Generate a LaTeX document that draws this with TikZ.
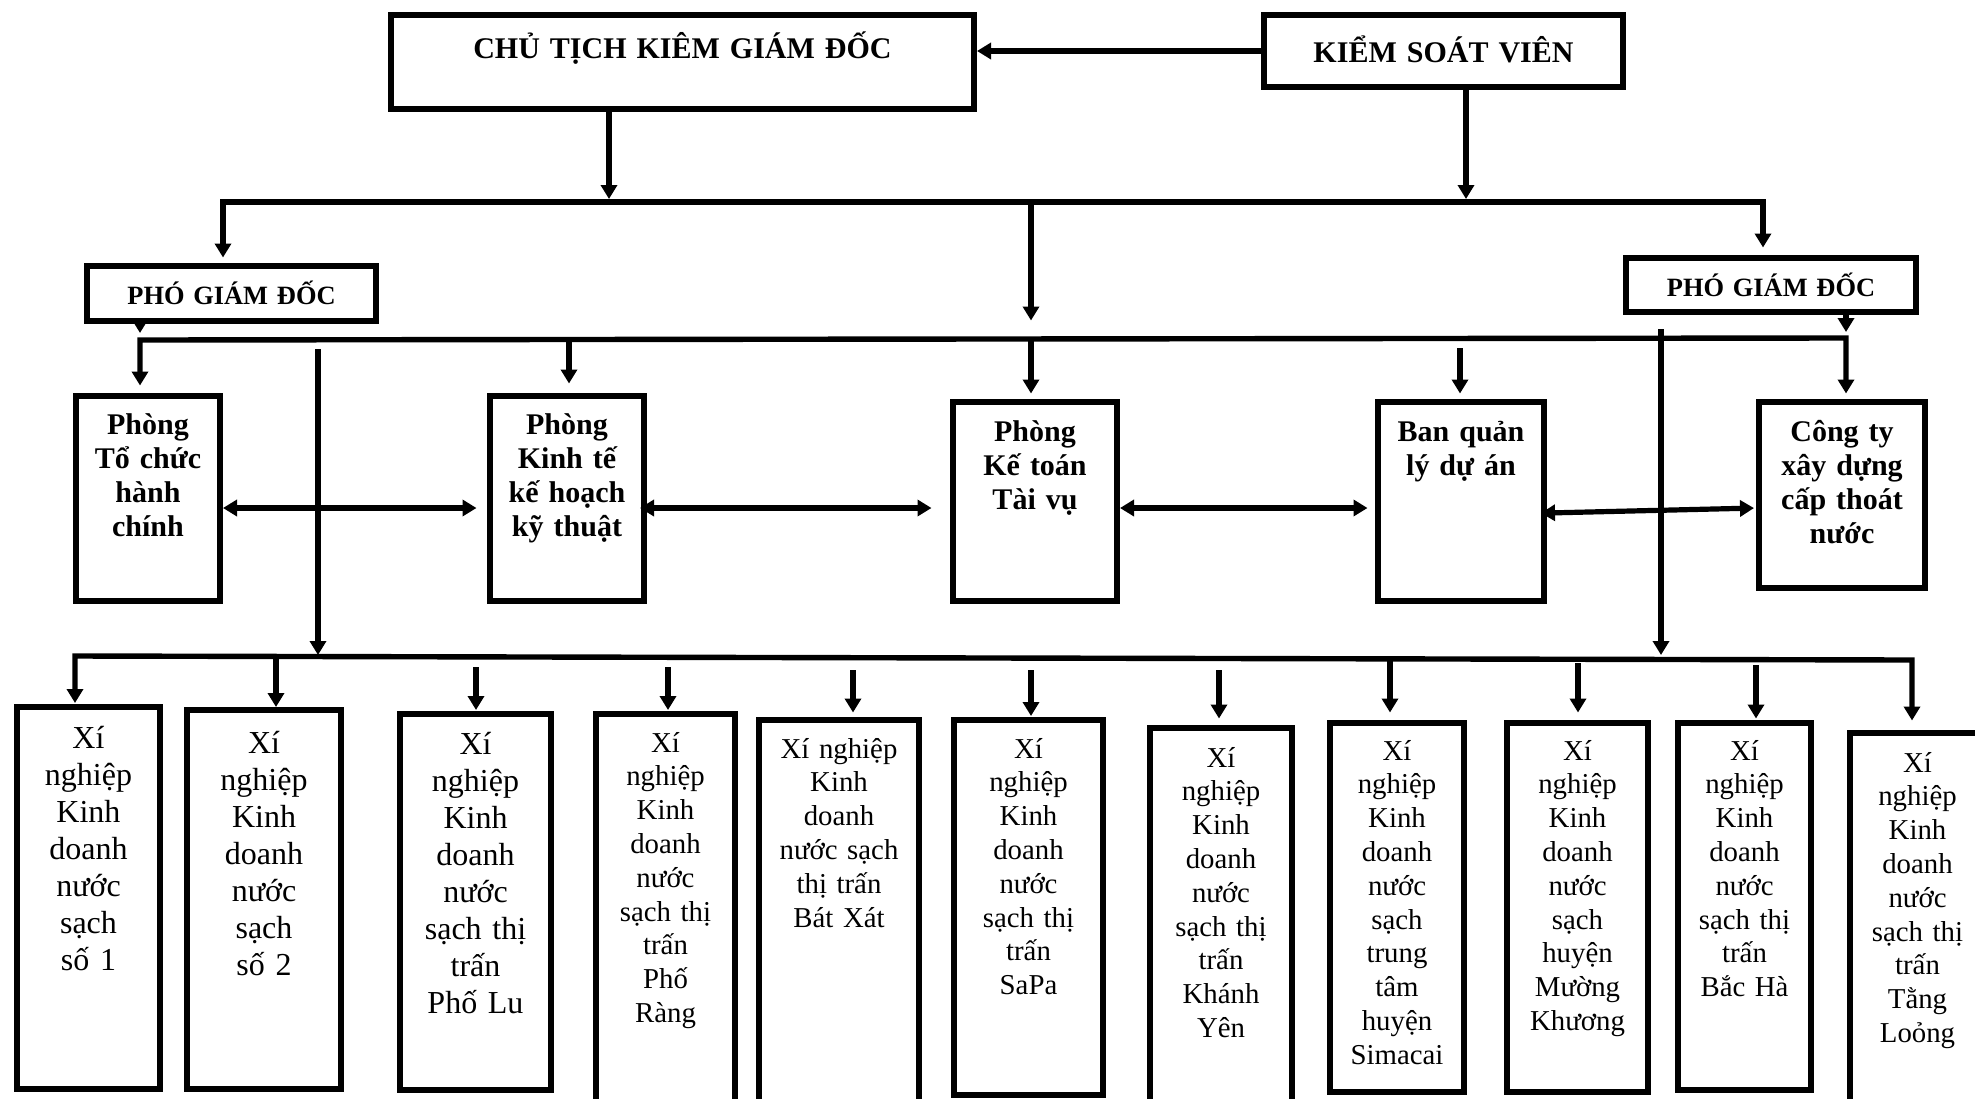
\documentclass[tikz,border=0pt]{standalone}
\usepackage{fontspec}
\setmainfont{Liberation Serif}
\usetikzlibrary{arrows.meta}
\newcommand{\ubox}[8]{%
  \pgfmathsetmacro{\ubw}{(#4-#2)/2}%
  \pgfmathsetmacro{\ubh}{(#6-#3)/2}%
  \pgfmathsetmacro{\ubd}{(#5-#6)/2}%
  \node[bx,#7,text width=\ubw pt,text height=\ubh pt,text depth=\ubd pt,anchor=north west,xshift=-1.5pt,yshift=1.5pt] (#1) at (#2,#3) {#8};%
}
\begin{document}
\begin{tikzpicture}[x=0.5pt,y=-0.5pt,
  bx/.style={draw,line width=3pt,inner sep=0pt,align=center},
  ttop/.style={font=\fontsize{15}{18}\selectfont\bfseries},
  tpgd/.style={font=\fontsize{13.2}{16}\selectfont\bfseries},
  tmid/.style={font=\fontsize{15}{17.1}\selectfont\bfseries},
  tbig/.style={font=\fontsize{16}{18.5}\selectfont},
  tsml/.style={font=\fontsize{14.4}{16.9}\selectfont},
  tip/.tip={Triangle[length=7pt,width=8pt]},
  arr/.style={line width=2.6pt,-tip},
  dbl/.style={line width=2.6pt,tip-tip},
  bus/.style={line width=2.7pt,line join=miter}]
\useasboundingbox (0,0) rectangle (1975,1098);
\clip (0,0) rectangle (1975,1098);
% top level
\ubox{ct}{391}{15}{974}{109}{58}{ttop}{CHỦ TỊCH KIÊM GIÁM ĐỐC}
\ubox{ksv}{1264}{15}{1623}{87}{62}{ttop}{KIỂM SOÁT VIÊN}
\ubox{pgl}{87}{266}{376}{321}{304}{tpgd}{PHÓ GIÁM ĐỐC}
\ubox{pgr}{1626}{258}{1916}{312}{296}{tpgd}{PHÓ GIÁM ĐỐC}
% departments
\ubox{tc}{76}{396}{220}{601}{434}{tmid}{Phòng\\Tổ chức\\hành\\chính}
\ubox{kt}{490}{396}{644}{601}{434}{tmid}{Phòng\\Kinh tế\\kế hoạch\\kỹ thuật}
\ubox{ke}{953}{402}{1117}{601}{441}{tmid}{Phòng\\Kế toán\\Tài vụ}
\ubox{ql}{1378}{402}{1544}{601}{441}{tmid}{Ban quản\\lý dự án}
\ubox{cty}{1759}{402}{1925}{588}{441}{tmid}{Công ty\\xây dựng\\cấp thoát\\nước}
% enterprises
\ubox{x1}{17}{707}{160}{1089}{748}{tbig}{Xí\\nghiệp\\Kinh\\doanh\\nước\\sạch\\số 1}
\ubox{x2}{187}{710}{341}{1089}{753}{tbig}{Xí\\nghiệp\\Kinh\\doanh\\nước\\sạch\\số 2}
\ubox{x3}{400}{714}{551}{1090}{754}{tbig}{Xí\\nghiệp\\Kinh\\doanh\\nước\\sạch thị\\trấn\\Phố Lu}
\ubox{x4}{596}{714}{735}{1130}{752}{tsml}{Xí\\nghiệp\\Kinh\\doanh\\nước\\sạch thị\\trấn\\Phố\\Ràng}
\ubox{x5}{759}{720}{919}{1130}{758}{tsml}{Xí nghiệp\\Kinh\\doanh\\nước sạch\\thị trấn\\Bát Xát}
\ubox{x6}{954}{720}{1103}{1095}{758}{tsml}{Xí\\nghiệp\\Kinh\\doanh\\nước\\sạch thị\\trấn\\SaPa}
\ubox{x7}{1150}{728}{1292}{1130}{767}{tsml}{Xí\\nghiệp\\Kinh\\doanh\\nước\\sạch thị\\trấn\\Khánh\\Yên}
\ubox{x8}{1330}{723}{1464}{1092}{760}{tsml}{Xí\\nghiệp\\Kinh\\doanh\\nước\\sạch\\trung\\tâm\\huyện\\Simacai}
\ubox{x9}{1507}{723}{1648}{1092}{760}{tsml}{Xí\\nghiệp\\Kinh\\doanh\\nước\\sạch\\huyện\\Mường\\Khương}
\ubox{x10}{1678}{723}{1811}{1090}{760}{tsml}{Xí\\nghiệp\\Kinh\\doanh\\nước\\sạch thị\\trấn\\Bắc Hà}
\ubox{x11}{1850}{733}{1985}{1130}{772}{tsml}{Xí\\nghiệp\\Kinh\\doanh\\nước\\sạch thị\\trấn\\Tằng\\Loỏng}
% coordinates
\coordinate (b1L) at (223,202);
\coordinate (b1R) at (1763,202);
\coordinate (b1c) at (609,202);
\coordinate (b1k) at (1466,202);
\coordinate (b1m) at (1031,202);
\coordinate (b2L) at (140,340);
\coordinate (b2R) at (1846,338);
\coordinate (b2kt) at (569,339.5);
\coordinate (b2ke) at (1031,338.5);
\coordinate (qls) at (1460,348);
\coordinate (lvs) at (318,349);
\coordinate (lve) at (318,655);
\coordinate (rvs) at (1661,329);
\coordinate (rve) at (1661,655);
\coordinate (bbL) at (75,656);
\coordinate (bbR) at (1912,660);
\coordinate (d2) at (276,657);
\coordinate (d3) at (476,667);
\coordinate (d4) at (668,667);
\coordinate (d5) at (853,670);
\coordinate (d6) at (1031,670);
\coordinate (d7) at (1219,670);
\coordinate (d8) at (1390,659);
\coordinate (d9) at (1578,663);
\coordinate (d10) at (1756,665);
% top connectors
\draw[arr] (ksv.west) -- (ksv.west -| ct.east);
\draw[arr,shorten >=1.5pt] (ct.south -| b1c) -- (b1c);
\draw[arr,shorten >=1.5pt] (ksv.south -| b1k) -- (b1k);
\draw[bus,tip-tip,shorten <=2.75pt,shorten >=3.75pt] (b1L |- pgl.north) -- (b1L) -- (b1R) -- (b1R |- pgr.north);
\draw[arr,shorten >=9pt] (b1m) -- (b2ke);
% second level
\draw[bus,tip-tip,shorten <=3.75pt,shorten >=2.75pt] (b2L |- tc.north) -- (b2L) -- (b2R) -- (b2R |- cty.north);
\draw[arr,shorten >=3.5pt] (pgl.south -| b2L) -- (b2L);
\draw[arr,shorten >=3pt] (pgr.south -| b2R) -- (b2R);
\draw[arr,shorten >=4.75pt] (b2kt) -- (b2kt |- kt.north);
\draw[arr,shorten >=2.75pt] (b2ke) -- (b2ke |- ke.north);
\draw[arr,shorten >=2.75pt] (qls) -- (qls |- ql.north);
% horizontal links
\draw[dbl,shorten >=5.25pt] ([yshift=-4.75pt]tc.east) -- ([yshift=-4.75pt]kt.west);
\draw[dbl,shorten <=-3.5pt,shorten >=9.25pt] ([yshift=-4.75pt]kt.east) -- ([yshift=-3.25pt]ke.west);
\draw[dbl,shorten >=3.75pt] ([yshift=-3.25pt]ke.east) -- ([yshift=-3.25pt]ql.west);
\draw[dbl,shorten <=-3pt,shorten >=1pt] ([yshift=-5.75pt]ql.east) -- ([yshift=-6.5pt]cty.west);
% long verticals
\draw[arr] (lvs) -- (lve);
\draw[arr] (rvs) -- (rve);
% bottom bus
\draw[bus,tip-tip,shorten <=0.5pt,shorten >=4.75pt] (bbL |- x1.north) -- (bbL) -- (bbR) -- (bbR |- x11.north);
\draw[arr] (d2) -- (d2 |- x2.north);
\draw[arr,shorten >=0.5pt] (d3) -- (d3 |- x3.north);
\draw[arr,shorten >=0.5pt] (d4) -- (d4 |- x4.north);
\draw[arr,shorten >=2.25pt] (d5) -- (d5 |- x5.north);
\draw[arr,shorten >=0.5pt] (d6) -- (d6 |- x6.north);
\draw[arr,shorten >=3.25pt] (d7) -- (d7 |- x7.north);
\draw[arr,shorten >=3.75pt] (d8) -- (d8 |- x8.north);
\draw[arr,shorten >=3.75pt] (d9) -- (d9 |- x9.north);
\draw[arr,shorten >=0.75pt] (d10) -- (d10 |- x10.north);
\end{tikzpicture}
\end{document}
